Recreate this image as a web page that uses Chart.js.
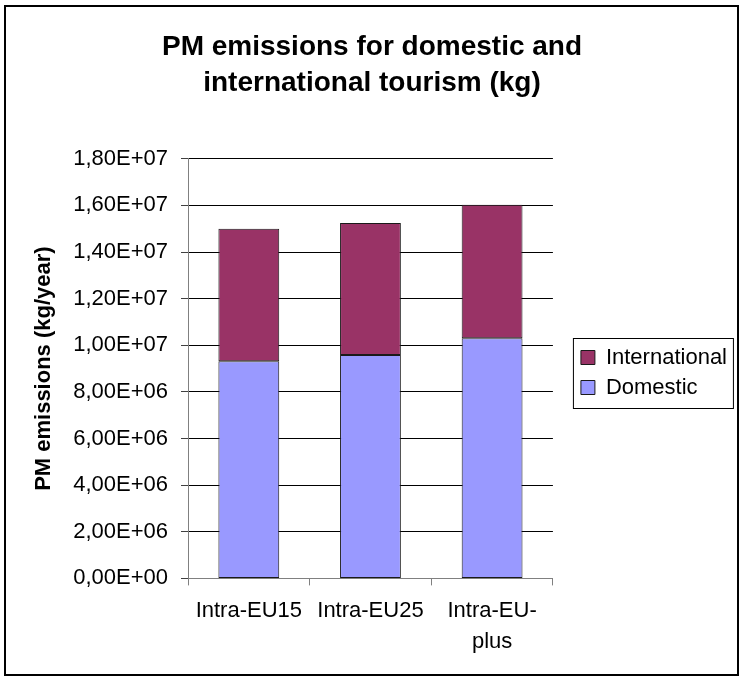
<!DOCTYPE html>
<html>
<head>
<meta charset="utf-8">
<title>PM emissions</title>
<script src="https://cdn.jsdelivr.net/npm/chart.js@4/dist/chart.umd.min.js"></script>
<style>
  html, body { margin: 0; padding: 0; background: #fff; }
  #wrap { width: 742px; height: 680px; }
</style>
</head>
<body>
<div id="wrap"><canvas id="chart" width="742" height="680"></canvas></div>
<script>
/* global Chart */
const categories = ["Intra-EU15", "Intra-EU25", ["Intra-EU-", "plus"]];
const domestic = [9.32e6, 9.58e6, 10.3e6];
const international = [5.68e6, 5.67e6, 5.73e6];
const yMax = 1.8e7;
const yStep = 2e6;

Chart.defaults.font.family = "'Liberation Sans', Arial, sans-serif";
Chart.defaults.color = "#000";

// Excel style "1,80E+07"
function sciLabel(value) {
  if (value === 0) return "0,00E+00";
  const exp = Math.floor(Math.log10(value) + 1e-9);
  const mant = value / Math.pow(10, exp);
  return mant.toFixed(2).replace(".", ",") + "E+" + String(exp).padStart(2, "0");
}

// moves the legend clear of the plot and draws the frames
const frames = {
  id: "frames",
  afterLayout(chart) {
    const legend = chart.legend;
    legend.left += 20;
    legend.right += 20;
    legend.top += 35;
    legend.bottom += 35;
  },
  afterDraw(chart) {
    const ctx = chart.ctx;
    const boxes = chart.legend.legendHitBoxes;
    ctx.save();
    ctx.strokeStyle = "#000";
    ctx.lineWidth = 1;
    if (boxes.length) {
      const last = boxes[boxes.length - 1];
      const top = boxes[0].top - 9;
      const bottom = last.top + last.height + 9;
      ctx.strokeRect(chart.legend.left + 0.5, Math.round(top) + 0.5, 160, Math.round(bottom - top));
    }
    ctx.lineWidth = 2;
    ctx.strokeRect(5, 6, 733, 669);
    ctx.restore();
  },
};

const data = {
  labels: categories,
  datasets: [
    {
      label: "Domestic",
      data: domestic,
      backgroundColor: "#9999FF",
      borderColor: "#1a1a1a",
      borderWidth: 1,
      borderSkipped: false,
    },
    {
      label: "International",
      data: international,
      backgroundColor: "#993366",
      borderColor: "#1a1a1a",
      borderWidth: 1,
      borderSkipped: false,
    },
  ],
};

const options = {
  responsive: false,
  animation: false,
  layout: {
    padding: { top: 8, left: 27, right: 25, bottom: 13 },
  },
  datasets: {
    bar: {
      categoryPercentage: 1.0,
      barPercentage: 0.5,
    },
  },
  scales: {
    x: {
      stacked: true,
      grid: {
        offset: true,
        drawOnChartArea: false,
        drawTicks: true,
        tickLength: 7,
        color: "#808080",
      },
      border: { color: "#808080", width: 1 },
      ticks: {
        font: { size: 22, lineHeight: 1.4 },
        padding: 10,
        maxRotation: 0,
        autoSkip: false,
      },
    },
    y: {
      stacked: true,
      min: 0,
      max: yMax,
      afterFit(scale) {
        scale.width = 161;
      },
      grid: {
        color: "#000",
        tickColor: "#404040",
        tickLength: 7,
        lineWidth: 1,
      },
      border: { color: "#808080", width: 1 },
      ticks: {
        stepSize: yStep,
        font: { size: 22 },
        padding: 13,
        callback: (v) => sciLabel(v),
      },
      title: {
        display: true,
        text: "PM emissions (kg/year)",
        font: { size: 22, weight: "bold" },
        padding: { top: 4, bottom: 4 },
      },
    },
  },
  plugins: {
    title: {
      display: true,
      text: ["PM emissions for domestic and", "international tourism (kg)"],
      font: { size: 28, weight: "bold", lineHeight: 1.3 },
      padding: { top: 21, bottom: 57 },
    },
    legend: {
      display: true,
      position: "right",
      reverse: true,
      labels: {
        boxWidth: 14,
        boxHeight: 14,
        padding: 8,
        font: { size: 22 },
        color: "#000",
      },
    },
    tooltip: { enabled: false },
  },
};

window.chart = new Chart(document.getElementById("chart"), {
  type: "bar",
  data: data,
  options: options,
  plugins: [frames],
});
</script>
</body>
</html>
